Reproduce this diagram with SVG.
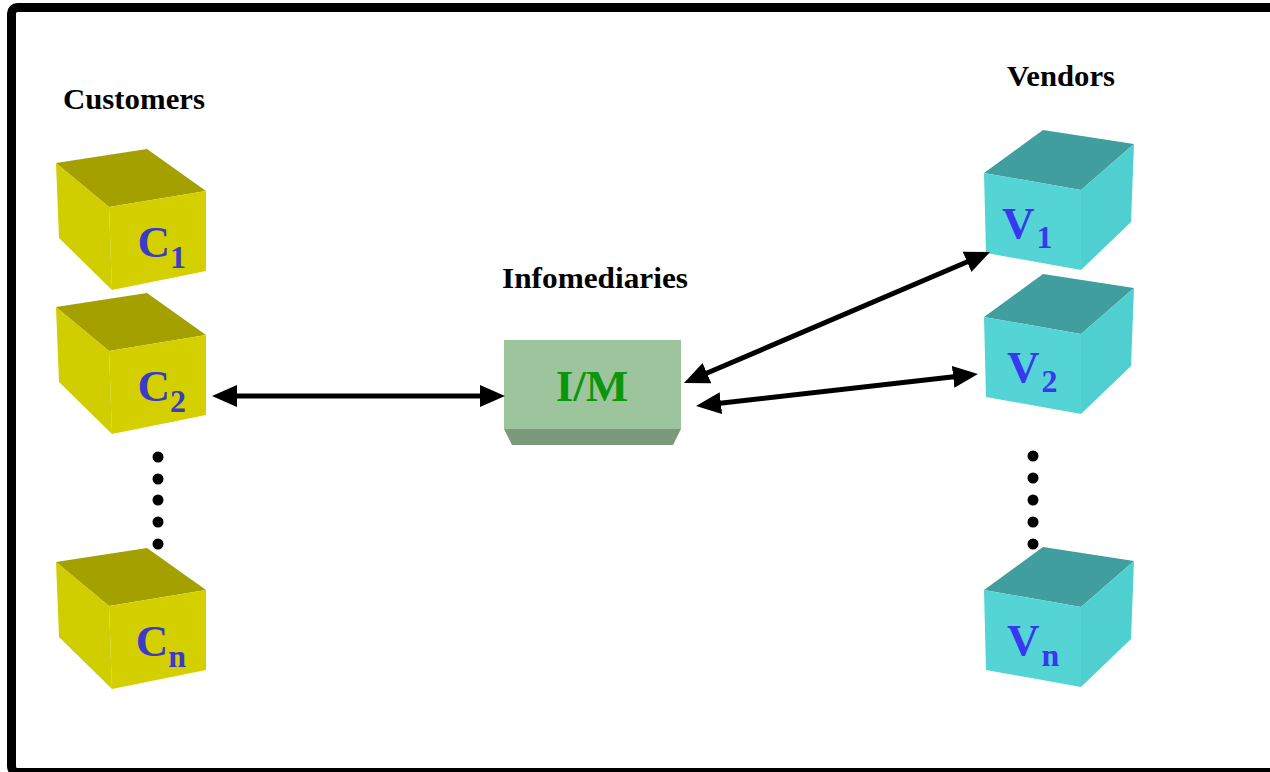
<svg xmlns="http://www.w3.org/2000/svg" xmlns:xlink="http://www.w3.org/1999/xlink" width="1270" height="772" viewBox="0 0 1270 772">
  <style>
    text { font-family: 'Liberation Serif', Tinos, 'Times New Roman', Times, serif; font-weight: 700; }
    .label { font-size: 30px; fill: #000; }
    .cube-text { font-size: 45px; }
    .sub { font-size: 32px; }
    .ctext { fill: #3b3bc8; }
    .vtext { fill: #3838f0; }
    .c-top { fill: #a3a000; }
    .c-front { fill: #d4d000; }
    .c-left { fill: #d0cd00; }
    .v-top { fill: #409e9e; }
    .v-front { fill: #54d4d4; }
    .v-right { fill: #50cfd0; }
    .link { stroke: #000; stroke-width: 5; fill: none; marker-start: url(#head); marker-end: url(#head); }
    .dot { fill: #000; }
  </style>
  <defs>
    <marker id="head" markerUnits="userSpaceOnUse" markerWidth="30" markerHeight="26" refX="3" refY="12" orient="auto-start-reverse" viewBox="0 0 30 26">
      <path d="M0,1 L25,12 L0,23 z" fill="#000"/>
    </marker>
    <!-- customer cube: top, front and left faces -->
    <g id="ccube">
      <polygon class="c-top" points="56,163 147,149 206,191 109,207"/>
      <polygon class="c-front" points="109,207 206,191 206,271 112,290"/>
      <polygon class="c-left" points="56,163 109,207 112,290 59,238"/>
    </g>
    <!-- vendor cube: top, front and right faces -->
    <g id="vcube">
      <polygon class="v-top" points="984,173 1043,130 1134,144 1081,190"/>
      <polygon class="v-front" points="984,173 1081,190 1081,270 986,253"/>
      <polygon class="v-right" points="1081,190 1134,144 1131,222 1081,270"/>
    </g>
  </defs>

  <rect width="1270" height="772" fill="#fff"/>
  <!-- frame -->
  <rect x="11.5" y="7.5" width="1275" height="765" rx="6" fill="none" stroke="#000" stroke-width="9"/>

  <!-- group labels -->
  <text class="label" x="63" y="109" textLength="142" lengthAdjust="spacingAndGlyphs">Customers</text>
  <text class="label" x="502" y="288" textLength="186" lengthAdjust="spacingAndGlyphs">Infomediaries</text>
  <text class="label" x="1007" y="86" textLength="108" lengthAdjust="spacingAndGlyphs">Vendors</text>

  <!-- customers -->
  <g id="c1">
    <use xlink:href="#ccube"/>
    <text class="cube-text ctext" x="186" y="257" text-anchor="end">C<tspan class="sub" dy="11">1</tspan></text>
  </g>
  <g id="c2" transform="translate(0,144)">
    <use xlink:href="#ccube"/>
    <text class="cube-text ctext" x="186" y="257" text-anchor="end">C<tspan class="sub" dy="11">2</tspan></text>
  </g>
  <g id="cn" transform="translate(0,399)">
    <use xlink:href="#ccube"/>
    <text class="cube-text ctext" x="186" y="257" text-anchor="end">C<tspan class="sub" dy="11">n</tspan></text>
  </g>
  <g id="c-dots">
    <circle class="dot" cx="158" cy="457" r="5.5"/>
    <circle class="dot" cx="158" cy="479" r="5.5"/>
    <circle class="dot" cx="158" cy="500" r="5.5"/>
    <circle class="dot" cx="158" cy="522" r="5.5"/>
    <circle class="dot" cx="158" cy="544" r="5.5"/>
  </g>

  <!-- infomediary -->
  <g id="im">
    <rect x="504" y="340" width="177" height="89" fill="#9dc59d"/>
    <polygon points="504,429 681,429 673,445 512,445" fill="#7b9a7b"/>
    <text class="cube-text" x="592" y="401" text-anchor="middle" fill="#0b960b" font-size="47">I/M</text>
  </g>

  <!-- vendors -->
  <g id="v1">
    <use xlink:href="#vcube"/>
    <text class="cube-text vtext" x="1002" y="238">V<tspan class="sub" dx="2" dy="10">1</tspan></text>
  </g>
  <g id="v2" transform="translate(0,144)">
    <use xlink:href="#vcube"/>
    <text class="cube-text vtext" x="1007" y="238">V<tspan class="sub" dx="2" dy="10">2</tspan></text>
  </g>
  <g id="vn" transform="translate(0,417)">
    <use xlink:href="#vcube"/>
    <text class="cube-text vtext" x="1007" y="238">V<tspan class="sub" dx="2" dy="11">n</tspan></text>
  </g>
  <g id="v-dots">
    <circle class="dot" cx="1033" cy="456" r="5.5"/>
    <circle class="dot" cx="1033" cy="478" r="5.5"/>
    <circle class="dot" cx="1033" cy="500" r="5.5"/>
    <circle class="dot" cx="1033" cy="522" r="5.5"/>
    <circle class="dot" cx="1033" cy="544" r="5.5"/>
  </g>

  <!-- connectors -->
  <g id="connectors">
    <line class="link" x1="234" y1="396" x2="483" y2="396"/>
    <line class="link" x1="704.2" y1="374.3" x2="969.8" y2="260.7"/>
    <line class="link" x1="717.9" y1="403.5" x2="956.1" y2="376.5"/>
  </g>
</svg>
